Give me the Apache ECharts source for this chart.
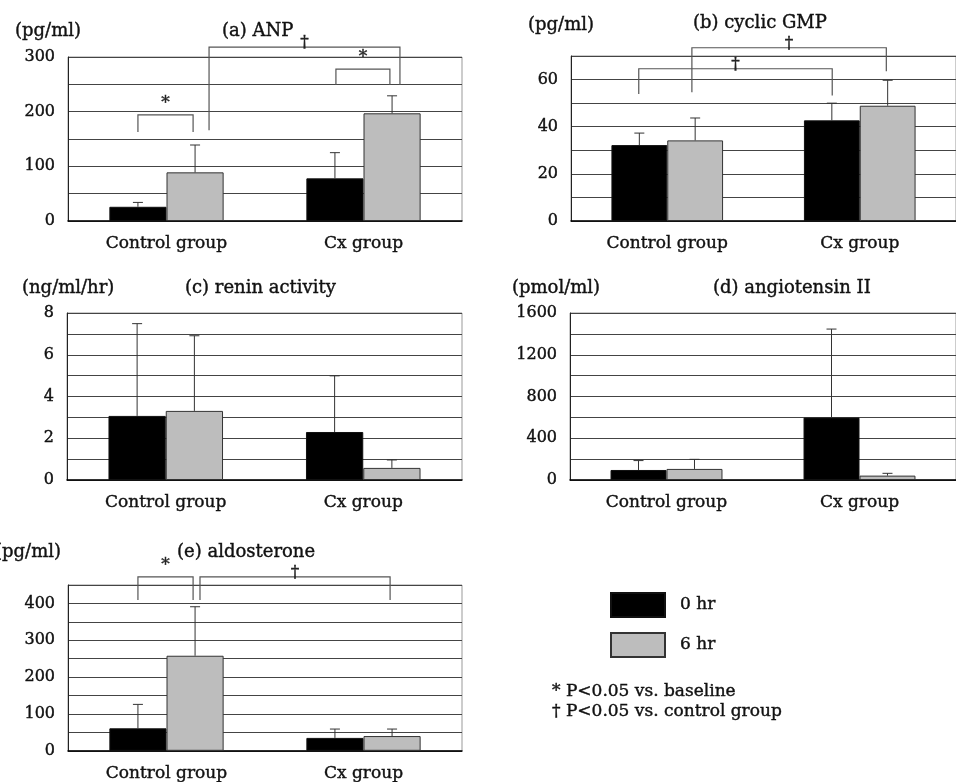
<!DOCTYPE html>
<html>
<head>
<meta charset="utf-8">
<script src="https://cdn.jsdelivr.net/npm/echarts@6/dist/echarts.min.js"></script>
<style>
  html, body { margin: 0; padding: 0; background: #fff; }
  #chart { width: 956px; height: 782px; }
</style>
</head>
<body>
<div id="chart"></div>
<script>
// categories shared by all panels
const categories = ['Control group', 'Cx group'];

// (a) ANP, pg/ml
const anp0 = [26, 78];
const anp6 = [89, 197];
const anpSd0 = [8, 47];
const anpSd6 = [50, 32];
// (b) cyclic GMP, pg/ml
const cgmp0 = [32.2, 42.7];
const cgmp6 = [34.2, 48.9];
const cgmpSd0 = [5.1, 7.3];
const cgmpSd6 = [9.5, 10.8];
// (c) renin activity, ng/ml/hr
const renin0 = [3.07, 2.3];
const renin6 = [3.31, 0.58];
const reninSd0 = [4.42, 2.69];
const reninSd6 = [3.6, 0.38];
// (d) angiotensin II, pmol/ml
const ang0 = [96, 598];
const ang6 = [106, 42];
const angSd0 = [90, 848];
const angSd6 = [92, 22];
// (e) aldosterone, pg/ml
const aldo0 = [61, 35];
const aldo6 = [258, 40];
const aldoSd0 = [65, 24];
const aldoSd6 = [133, 19];

// significance brackets: [x1, x2, yTop, yLeftEnd, yRightEnd, mark]
// x in category units (0 = Control group, 1 = Cx group)
const anpBrackets = [
  [-0.145, 0.135, 194, 163, 163, '*'],
  [0.216, 1.185, 318, 166, 249, '\u2020'],
  [0.86, 1.134, 278, 249, 249, '*']
];
const cgmpBrackets = [
  [0.128, 1.138, 73.5, 54.6, 63.5, '\u2020'],
  [-0.148, 0.857, 64.6, 53.9, 53.2, '\u2020']
];
const aldoBrackets = [
  [-0.145, 0.135, 472, 409, 409, '*'],
  [0.17, 1.135, 472, 409, 409, '\u2020']
];

const FONT = 'DejaVu Serif';
const INK = '#111';
const BAR_GROUP = 0.58; // share of the category band taken by the two bars

const panels = [
  { grid: { left: 68, top: 57, width: 394, height: 164 }, max: 300, interval: 50, step: 100,
    v0: anp0, v6: anp6, sd0: anpSd0, sd6: anpSd6, brackets: anpBrackets },
  { grid: { left: 571, top: 56, width: 392, height: 165 }, max: 70, interval: 10, step: 20,
    v0: cgmp0, v6: cgmp6, sd0: cgmpSd0, sd6: cgmpSd6, brackets: cgmpBrackets },
  { grid: { left: 67, top: 313, width: 395, height: 167 }, max: 8, interval: 1, step: 2,
    v0: renin0, v6: renin6, sd0: reninSd0, sd6: reninSd6, brackets: [] },
  { grid: { left: 570, top: 313, width: 392, height: 167 }, max: 1600, interval: 200, step: 400,
    v0: ang0, v6: ang6, sd0: angSd0, sd6: angSd6, brackets: [] },
  { grid: { left: 68, top: 585, width: 394, height: 166 }, max: 450, interval: 50, step: 100,
    v0: aldo0, v6: aldo6, sd0: aldoSd0, sd6: aldoSd6, brackets: aldoBrackets }
];

function errorRenderer(side) {
  return function (params, api) {
    const top = api.value(1) + api.value(2);
    const band = api.size([1, 0])[0];
    const dx = side * band * BAR_GROUP / 4;
    const p0 = api.coord([api.value(0), api.value(1)]);
    const p1 = api.coord([api.value(0), top]);
    const x = p0[0] + dx;
    const style = { stroke: '#333', lineWidth: 1 };
    return {
      type: 'group',
      children: [
        { type: 'line', shape: { x1: x, y1: p0[1], x2: x, y2: p1[1] }, style: style },
        { type: 'line', shape: { x1: x - 5, y1: p1[1], x2: x + 5, y2: p1[1] }, style: style }
      ]
    };
  };
}

function bracketRenderer(list) {
  return function (params, api) {
    const b = list[params.dataIndex];
    const lt = api.coord([b[0], b[2]]);
    const rt = api.coord([b[1], b[2]]);
    const lb = api.coord([b[0], b[3]]);
    const rb = api.coord([b[1], b[4]]);
    const style = { stroke: '#555', lineWidth: 1.2, fill: null };
    const isStar = b[5] === '*';
    return {
      type: 'group',
      children: [
        { type: 'polyline', shape: { points: [lb, lt, rt, rb] }, style: style },
        { type: 'text', x: (lt[0] + rt[0]) / 2, y: isStar ? lt[1] - 3 : lt[1] + 4,
          style: { text: b[5], font: '17px "' + FONT + '"', fill: '#222',
            stroke: '#222', lineWidth: 0.4, align: 'center', verticalAlign: 'bottom' } }
      ]
    };
  };
}

const grids = [], xAxes = [], yAxes = [], series = [];
panels.forEach(function (p, i) {
  grids.push(Object.assign({ show: true, borderColor: '#999', borderWidth: 1, backgroundColor: '#fff' }, p.grid));
  xAxes.push({
    type: 'category', gridIndex: i, data: categories,
    axisLine: { lineStyle: { color: '#000', width: 1.5 } },
    axisTick: { show: false },
    axisLabel: { color: INK, fontFamily: FONT, fontSize: 17, margin: 14,
      textBorderColor: INK, textBorderWidth: 0.4 }
  });
  // hidden value axis for placing brackets between bars
  xAxes.push({ type: 'value', gridIndex: i, min: -0.5, max: 1.5, show: false });
  yAxes.push({
    type: 'value', gridIndex: i, min: 0, max: p.max, interval: p.interval,
    axisLine: { show: true, onZero: false, lineStyle: { color: '#222' } },
    axisTick: { show: false },
    splitLine: { lineStyle: { color: '#444', width: 1 } },
    axisLabel: {
      color: INK, fontFamily: FONT, fontSize: 16, margin: 13, padding: [6, 0, 0, 0],
      textBorderColor: INK, textBorderWidth: 0.4,
      formatter: (function (step) {
        return function (v) { return v % step === 0 ? String(v) : ''; };
      })(p.step)
    }
  });
  series.push({
    name: '0 hr', type: 'bar', xAxisIndex: 2 * i, yAxisIndex: i, data: p.v0,
    barGap: '0%', barCategoryGap: (100 - BAR_GROUP * 100) + '%',
    itemStyle: { color: '#000', borderColor: '#111', borderWidth: 1 }
  });
  series.push({
    name: '6 hr', type: 'bar', xAxisIndex: 2 * i, yAxisIndex: i, data: p.v6,
    barGap: '0%', barCategoryGap: (100 - BAR_GROUP * 100) + '%',
    itemStyle: { color: '#bdbdbd', borderColor: '#333', borderWidth: 1 }
  });
  [[p.v0, p.sd0, -1], [p.v6, p.sd6, 1]].forEach(function (s) {
    series.push({
      type: 'custom', xAxisIndex: 2 * i, yAxisIndex: i, z: 3,
      renderItem: errorRenderer(s[2]),
      data: s[0].map(function (v, k) { return [k, v, s[1][k]]; })
    });
  });
  if (p.brackets.length) {
    series.push({
      type: 'custom', xAxisIndex: 2 * i + 1, yAxisIndex: i, z: 4, clip: false,
      renderItem: bracketRenderer(p.brackets),
      data: p.brackets.map(function (b) { return [b[0], b[2]]; })
    });
  }
});

function label(text, x, y, size) {
  return { type: 'text', x: x, y: y,
    style: { text: text, font: (size || 18) + 'px "' + FONT + '"', fill: INK,
      stroke: INK, lineWidth: 0.4, verticalAlign: 'middle' } };
}

const chart = echarts.init(document.getElementById('chart'));
chart.setOption({
  animation: false,
  backgroundColor: '#fff',
  grid: grids,
  xAxis: xAxes,
  yAxis: yAxes,
  series: series,
  legend: {
    data: ['0 hr', '6 hr'], orient: 'vertical', left: 605, top: 587,
    icon: 'rect', itemWidth: 54, itemHeight: 24, itemGap: 14,
    textStyle: { fontFamily: FONT, fontSize: 17, color: INK, padding: [0, 0, 0, 10],
      textBorderColor: INK, textBorderWidth: 0.4 }
  },
  graphic: [
    label('(pg/ml)', 15, 31), label('(a) ANP', 222, 31),
    label('(pg/ml)', 528, 25), label('(b) cyclic GMP', 693, 23),
    label('(ng/ml/hr)', 22, 288), label('(c) renin activity', 185, 288),
    label('(pmol/ml)', 512, 288), label('(d) angiotensin II', 713, 288),
    label('(pg/ml)', -5, 552), label('(e) aldosterone', 177, 552),
    label('* P<0.05 vs. baseline', 552, 692, 17),
    label('\u2020 P<0.05 vs. control group', 552, 712, 17)
  ]
});
</script>
</body>
</html>
